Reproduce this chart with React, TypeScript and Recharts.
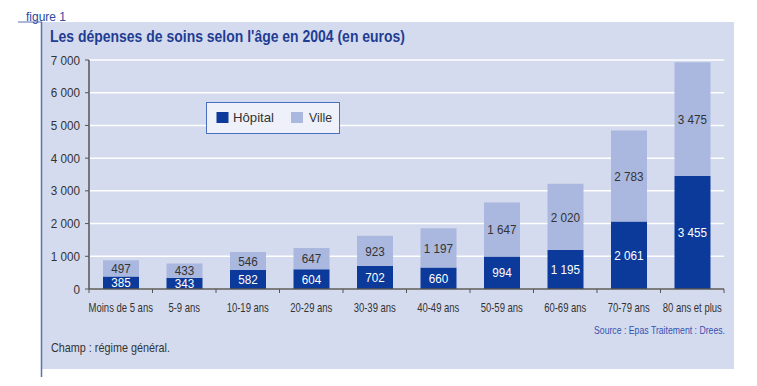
import React from "react";
import { BarChart, Bar, XAxis, YAxis, CartesianGrid, LabelList } from "recharts";

const categories = ["Moins de 5 ans", "5-9 ans", "10-19 ans", "20-29 ans", "30-39 ans", "40-49 ans", "50-59 ans", "60-69 ans", "70-79 ans", "80 ans et plus"];
const hopital = [385, 343, 582, 604, 702, 660, 994, 1195, 2061, 3455];
const ville = [497, 433, 546, 647, 923, 1197, 1647, 2020, 2783, 3475];
const yTicks = [0, 1000, 2000, 3000, 4000, 5000, 6000, 7000];

const data = categories.map((c, i) => ({ cat: c, hopital: hopital[i], ville: ville[i] }));

const FONT = "'Liberation Sans', Arial, sans-serif";
const DARK = "#0b3a9b";
const LIGHT = "#aab8df";
const BG = "#d5dbee";
const TXT = "#333333";
const AXIS = "#555555";
const TICK = 4;

const fmt = (v: any) => String(v).replace(/\B(?=(\d{3})+(?!\d))/g, " ");

const SText = ({ x, y, s = 1, anchor = "start", size = 13, fill = TXT, weight = "normal", children }: any) => (
  <text transform={`translate(${x},${y}) scale(${s},1)`} textAnchor={anchor} fontSize={size} fill={fill} fontFamily={FONT} fontWeight={weight}>
    {children}
  </text>
);

const XTick = (props: any) => {
  const { x, y, payload, width, visibleTicksCount, index } = props;
  const n = visibleTicksCount || categories.length;
  const step = (typeof width === "number" && width > 0 ? width : 635) / n;
  const left = x - step / 2;
  const right = x + step / 2;
  return (
    <g>
      <line x1={left} x2={left} y1={y - TICK} y2={y} stroke={AXIS} strokeWidth={1} />
      {index === n - 1 ? <line x1={right} x2={right} y1={y - TICK} y2={y} stroke={AXIS} strokeWidth={1} /> : null}
      <SText x={x} y={y + 18.5} s={0.73} anchor="middle" size={13}>{payload.value}</SText>
    </g>
  );
};

const YTick = (props: any) => {
  const { x, y, payload } = props;
  return <SText x={x} y={y + 4.5} s={0.9} anchor="end" size={13}>{fmt(payload.value)}</SText>;
};

const makeLabel = (color: string) => (props: any) => {
  const { x, y, width, height, value } = props;
  return <SText x={x + width / 2} y={y + height / 2 + 4.7} s={0.9} anchor="middle" size={13} fill={color}>{fmt(value)}</SText>;
};

const LegendBox = () => (
  <div style={{ position: "absolute", left: 206, top: 102, width: 134, height: 32, border: "1.5px solid #4a6fc0", background: "#eef1fa", boxSizing: "border-box" }}>
    <svg width={134} height={32} style={{ display: "block", position: "absolute", left: -1.5, top: -1.5 }}>
      <rect x={10.5} y={10} width={12} height={11} fill={DARK} />
      <text x={27} y={20} fontSize={13} fill={TXT} fontFamily={FONT} textLength={41} lengthAdjust="spacingAndGlyphs">Hôpital</text>
      <rect x={85} y={10} width={12} height={11} fill={LIGHT} />
      <text x={103} y={20} fontSize={13} fill={TXT} fontFamily={FONT} textLength={23} lengthAdjust="spacingAndGlyphs">Ville</text>
    </svg>
  </div>
);

export default function App() {
  return (
    <div style={{ position: "absolute", left: 0, top: 0, width: 757, height: 386, background: "#fff" }}>
      <svg width={757} height={386} style={{ position: "absolute", left: 0, top: 0 }}>
        <rect x={42} y={22} width={692} height={347} fill={BG} />
        <line x1={41.5} y1={22} x2={41.5} y2={377} stroke="#5a6fb5" strokeWidth={1.5} />
        <line x1={18} y1={22} x2={42} y2={22} stroke="#5a6fb5" strokeWidth={1} />
        <text x={26} y={21} fontSize={13} fill="#2b4aa2" fontFamily={FONT} textLength={40} lengthAdjust="spacingAndGlyphs">figure 1</text>
        <text x={50} y={42} fontSize={17} fontWeight="bold" fill="#1f3d93" fontFamily={FONT} textLength={355} lengthAdjust="spacingAndGlyphs">Les dépenses de soins selon l'âge en 2004 (en euros)</text>
        <text x={594} y={334} fontSize={11} fill="#3353b0" fontFamily={FONT} textLength={131} lengthAdjust="spacingAndGlyphs">Source : Epas Traitement : Drees.</text>
        <text x={51} y={352} fontSize={13} fill={TXT} fontFamily={FONT} textLength={119} lengthAdjust="spacingAndGlyphs">Champ : régime général.</text>
      </svg>
      <div style={{ position: "absolute", left: 0, top: 0 }}>
        <BarChart width={757} height={386} data={data} margin={{ top: 60, right: 33, left: 39, bottom: 67 }} barSize={36}>
          <CartesianGrid vertical={false} stroke="#ffffff" strokeWidth={1.5} />
          <XAxis dataKey="cat" type="category" tick={<XTick />} axisLine={{ stroke: AXIS, strokeWidth: 1.5 }} tickLine={false} tickSize={TICK} tickMargin={0} height={30} interval={0} />
          <YAxis domain={[0, 7000]} ticks={yTicks} tick={<YTick />} axisLine={{ stroke: AXIS, strokeWidth: 1.5 }} tickLine={{ stroke: AXIS }} tickSize={TICK} tickMargin={5} width={50} />
          <Bar dataKey="hopital" name="Hôpital" stackId="a" fill={DARK} isAnimationActive={false}>
            <LabelList dataKey="hopital" content={makeLabel("#ffffff")} />
          </Bar>
          <Bar dataKey="ville" name="Ville" stackId="a" fill={LIGHT} isAnimationActive={false}>
            <LabelList dataKey="ville" content={makeLabel(TXT)} />
          </Bar>
        </BarChart>
      </div>
      <LegendBox />
    </div>
  );
}
